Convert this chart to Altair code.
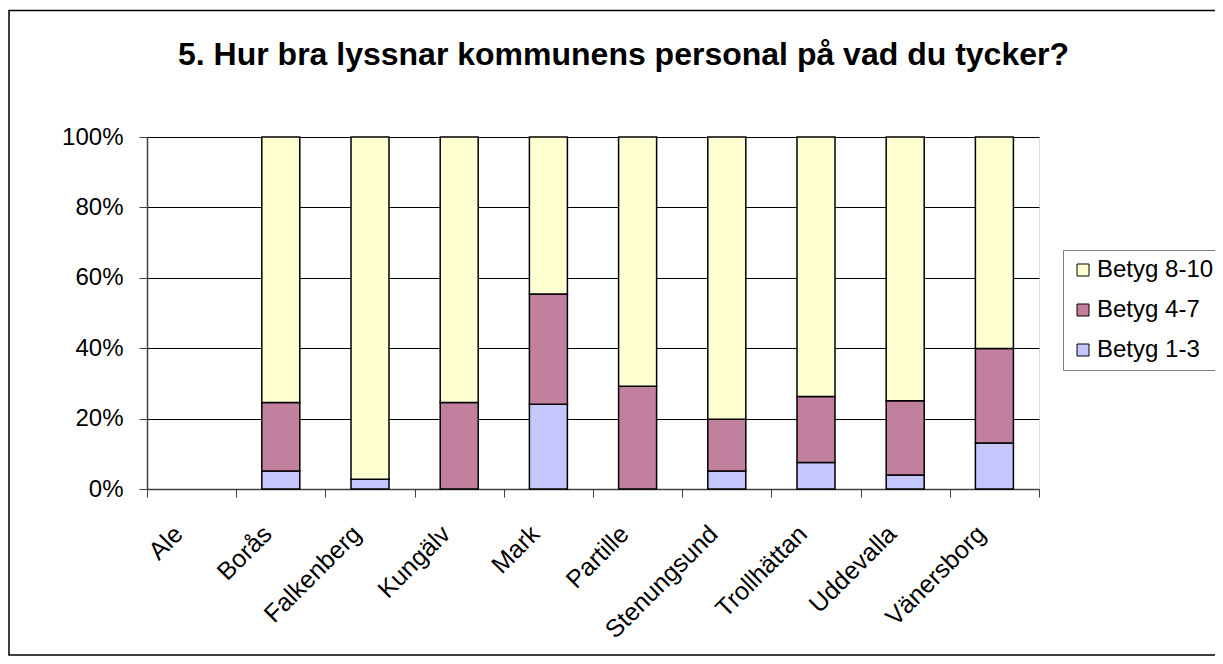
import altair as alt
import pandas as pd

categories = ["Ale", "Borås", "Falkenberg", "Kungälv", "Mark", "Partille",
              "Stenungsund", "Trollhättan", "Uddevalla", "Vänersborg"]
series = ["Betyg 8-10", "Betyg 4-7", "Betyg 1-3"]
betyg_1_3 = [0, 5.1, 2.8, 0, 24.1, 0, 5.1, 7.5, 4.0, 13.1]
betyg_4_7 = [0, 19.5, 0, 24.6, 31.3, 29.2, 14.7, 18.8, 21.1, 26.8]
betyg_8_10 = [0, 75.4, 97.2, 75.4, 44.6, 70.8, 80.2, 73.7, 74.9, 60.1]
series_colors = ["#FFFFD2", "#C2809F", "#C6C6FF"]
y_ticks = [0, 0.2, 0.4, 0.6, 0.8, 1.0]
title_text = "5. Hur bra lyssnar kommunens personal på vad du tycker?"

rows = []
for i, c in enumerate(categories):
    for s, vals, o in (("Betyg 1-3", betyg_1_3, 0),
                       ("Betyg 4-7", betyg_4_7, 1),
                       ("Betyg 8-10", betyg_8_10, 2)):
        rows.append({"kommun": c, "serie": s, "value": vals[i], "ordning": o})
df = pd.DataFrame(rows)

FONT = "Liberation Sans"

frame = alt.Chart(alt.Data(values=[{"a": 1}])).mark_rect(
    fill="white", fillOpacity=0, stroke="black", strokeWidth=1.5
).encode(
    x=alt.value(-138), x2=alt.value(1100),
    y=alt.value(-126.5), y2=alt.value(518)
)

title = alt.Chart(alt.Data(values=[{"t": title_text}])).mark_text(
    font=FONT, fontSize=32, fontWeight="bold", color="black",
    align="left", baseline="alphabetic"
).encode(
    x=alt.value(31), y=alt.value(-72), text="t:N"
)

bars = alt.Chart(df).transform_filter("datum.value > 0").mark_bar(
    width=38, stroke="black", strokeWidth=1.5
).encode(
    x=alt.X("kommun:N", sort=categories,
            scale=alt.Scale(domain=categories, paddingInner=0, paddingOuter=0),
            axis=alt.Axis(title=None, labelAngle=-45, labelFontSize=25,
                          labelFont=FONT, labelColor="black",
                          tickBand="extent", tickSize=8, grid=False,
                          domainColor="#404040", tickColor="#404040",
                          domainWidth=1.5, labelPadding=24, labelOffset=-22)),
    y=alt.Y("value:Q", stack="normalize",
            scale=alt.Scale(domain=[0, 1]),
            axis=alt.Axis(title=None, values=y_ticks, format=".0%",
                          labelFontSize=24, labelFont=FONT, labelColor="black",
                          tickSize=8, labelPadding=16, gridColor="black",
                          gridWidth=1, domainColor="#404040",
                          tickColor="#404040", domainWidth=1.5)),
    color=alt.Color("serie:N",
                    scale=alt.Scale(domain=series, range=series_colors),
                    legend=alt.Legend(title=None, orient="none",
                                      legendX=916, legendY=113,
                                      labelFontSize=24, labelFont=FONT,
                                      labelColor="black",
                                      symbolType="square", symbolSize=144,
                                      symbolStrokeColor="black",
                                      symbolStrokeWidth=1,
                                      strokeColor="#808080", fillColor="white",
                                      padding=8, rowPadding=16, labelOffset=2)),
    order=alt.Order("ordning:Q", sort="ascending"),
)

chart = alt.layer(frame, title, bars).properties(
    width=892, height=352,
    autosize=alt.AutoSizeParams(type="none"),
    padding={"left": 139, "top": 129, "right": 176, "bottom": 167},
).configure_view(
    stroke="#808080", strokeWidth=2
).configure(background="white")

chart.save("out.html", embed_options={"renderer": "svg", "actions": False})
